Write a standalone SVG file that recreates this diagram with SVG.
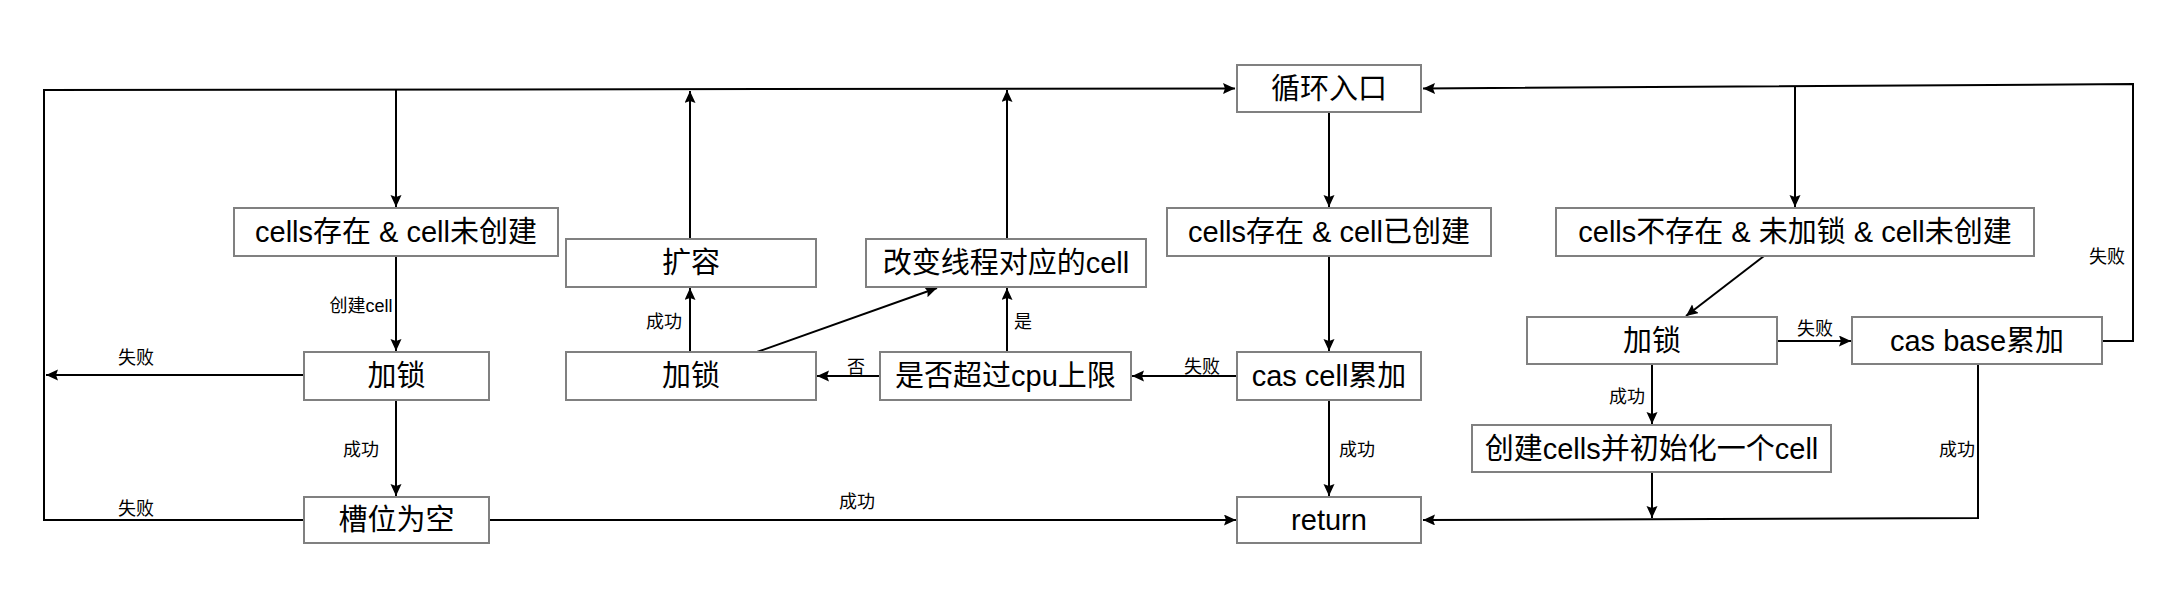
<svg xmlns="http://www.w3.org/2000/svg" width="2168" height="594" viewBox="0 0 2168 594">
<style>
.box{fill:#fff;stroke:#808080;stroke-width:2}
.nt{font-family:"Liberation Sans","Noto Sans CJK SC",sans-serif;font-size:29px;fill:#000;text-anchor:middle}
.lb{font-family:"Liberation Sans","Noto Sans CJK SC",sans-serif;font-size:18px;fill:#000;text-anchor:middle}
.c{fill:none;stroke:#000;stroke-width:2}
.a{marker-end:url(#arr)}
</style>
<defs>
<marker id="arr" markerUnits="userSpaceOnUse" markerWidth="14" markerHeight="12" refX="12" refY="5.5" orient="auto">
<path d="M0,0 L12,5.5 L0,11 L2,5.5 z" fill="#000"/>
</marker>
</defs>
<rect width="2168" height="594" fill="#fff"/>
<g id="connectors">
<path class="c a" d="M304,520 H44 V90 L1235,88.5"/>
<path class="c a" d="M304,375 H46"/>
<path class="c a" d="M396,90 V207"/>
<path class="c a" d="M396,256 V351"/>
<path class="c a" d="M396,400 V496"/>
<path class="c a" d="M489,520 H1236"/>
<path class="c a" d="M690,239 V91"/>
<path class="c a" d="M1007,239 V90"/>
<path class="c a" d="M690,352 V288"/>
<path class="c a" d="M757,352 L937,288"/>
<path class="c a" d="M1007,352 V288"/>
<path class="c a" d="M880,376 H817"/>
<path class="c a" d="M1237,376 H1132"/>
<path class="c a" d="M1329,112 V207"/>
<path class="c a" d="M1329,256 V351"/>
<path class="c a" d="M1329,400 V496"/>
<path class="c a" d="M2102,341 H2133 V84 L1423,88.5"/>
<path class="c a" d="M1795,86 V207"/>
<path class="c a" d="M1764,256 L1686,316"/>
<path class="c a" d="M1777,341 H1851"/>
<path class="c a" d="M1652,364 V424"/>
<path class="c a" d="M1652,472 V518"/>
<path class="c a" d="M1978,364 V518 L1423,520"/>
<text class="lb" x="361" y="312">创建cell</text>
<text class="lb" x="136" y="364">失败</text>
<text class="lb" x="361" y="456">成功</text>
<text class="lb" x="136" y="515">失败</text>
<text class="lb" x="857" y="508">成功</text>
<text class="lb" x="664" y="328">成功</text>
<text class="lb" x="1023" y="328">是</text>
<text class="lb" x="856" y="373">否</text>
<text class="lb" x="1202" y="373">失败</text>
<text class="lb" x="1357" y="456">成功</text>
<text class="lb" x="2107" y="263">失败</text>
<text class="lb" x="1815" y="335">失败</text>
<text class="lb" x="1627" y="403">成功</text>
<text class="lb" x="1957" y="456">成功</text>
</g>
<g id="loopEntry"><rect class="box" x="1237" y="65" width="184" height="47"/><text class="nt" x="1329" y="98.5">循环入口</text></g>
<g id="cellsExistNotCreated"><rect class="box" x="234" y="208" width="324" height="48"/><text class="nt" x="396" y="242">cells存在 &amp; cell未创建</text></g>
<g id="lockLeft"><rect class="box" x="304" y="352" width="185" height="48"/><text class="nt" x="396.5" y="386">加锁</text></g>
<g id="slotEmpty"><rect class="box" x="304" y="497" width="185" height="46"/><text class="nt" x="396.5" y="530">槽位为空</text></g>
<g id="expand"><rect class="box" x="566" y="239" width="250" height="48"/><text class="nt" x="691" y="273">扩容</text></g>
<g id="changeCell"><rect class="box" x="866" y="239" width="280" height="48"/><text class="nt" x="1006" y="273">改变线程对应的cell</text></g>
<g id="lockMid"><rect class="box" x="566" y="352" width="250" height="48"/><text class="nt" x="691" y="386">加锁</text></g>
<g id="cpuLimit"><rect class="box" x="880" y="352" width="251" height="48"/><text class="nt" x="1005.5" y="386">是否超过cpu上限</text></g>
<g id="casCell"><rect class="box" x="1237" y="352" width="184" height="48"/><text class="nt" x="1329" y="386">cas cell累加</text></g>
<g id="cellsExistCreated"><rect class="box" x="1167" y="208" width="324" height="48"/><text class="nt" x="1329" y="242">cells存在 &amp; cell已创建</text></g>
<g id="return"><rect class="box" x="1237" y="497" width="184" height="46"/><text class="nt" x="1329" y="530">return</text></g>
<g id="cellsNotExist"><rect class="box" x="1556" y="208" width="478" height="48"/><text class="nt" x="1795" y="242">cells不存在 &amp; 未加锁 &amp; cell未创建</text></g>
<g id="lockRight"><rect class="box" x="1527" y="317" width="250" height="47"/><text class="nt" x="1652" y="350.5">加锁</text></g>
<g id="casBase"><rect class="box" x="1852" y="317" width="250" height="47"/><text class="nt" x="1977" y="350.5">cas base累加</text></g>
<g id="createCells"><rect class="box" x="1472" y="425" width="359" height="47"/><text class="nt" x="1651.5" y="458.5">创建cells并初始化一个cell</text></g>
</svg>
